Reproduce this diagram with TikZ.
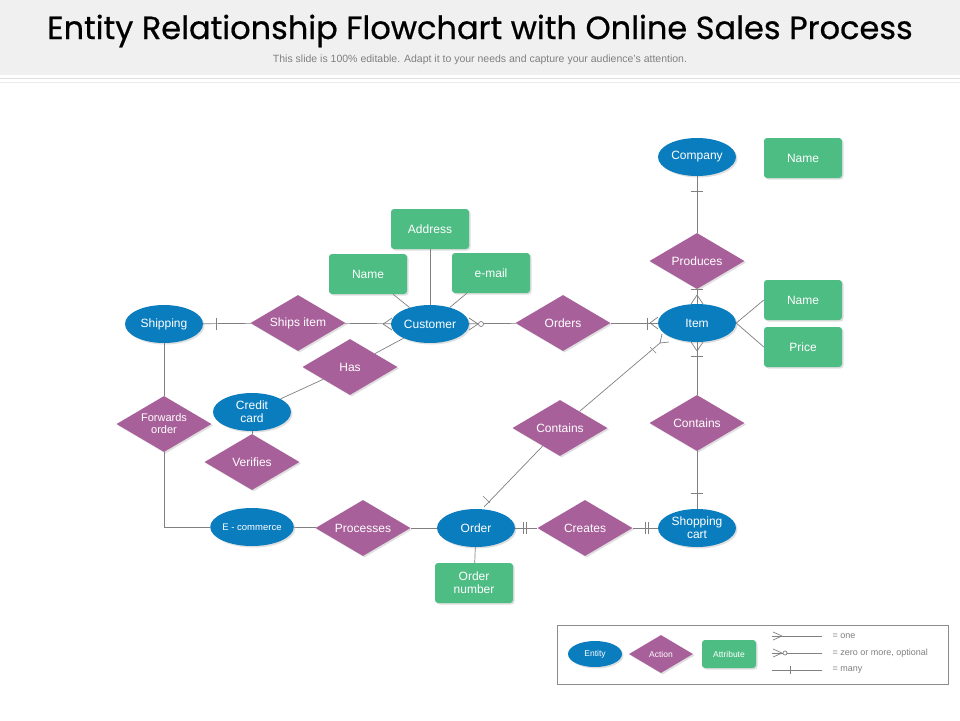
\documentclass[tikz,border=0pt]{standalone}
\usepackage{fontspec}
\setmainfont{Liberation Sans}
\newfontfamily\titlefont[FakeBold=0.6]{Poppins}
\usetikzlibrary{shapes.geometric,shadows}
\definecolor{ent}{HTML}{0A7DBF}
\definecolor{act}{HTML}{A8609A}
\definecolor{att}{HTML}{4DBD84}
\definecolor{ln}{HTML}{808080}
\tikzset{
 sh/.style={drop shadow={shadow xshift=1.5pt,shadow yshift=-1.5pt,opacity=0.25}},
 ent/.style={ellipse,fill=ent,text=white,minimum width=78pt,minimum height=38pt,inner sep=0pt,font=\fontsize{12}{13}\selectfont,align=center,sh},
 act/.style={diamond,fill=act,text=white,minimum width=95pt,minimum height=56pt,aspect=1.7,inner sep=0pt,font=\fontsize{12}{13}\selectfont,align=center,sh},
 att/.style={rectangle,rounded corners=3pt,fill=att,text=white,minimum width=78pt,minimum height=40pt,inner sep=0pt,font=\fontsize{12}{13}\selectfont,align=center,sh},
 con/.style={draw=ln,line width=0.7pt},
 mk/.style={draw=ln,line width=0.7pt},
 lt/.style={anchor=west,text=black!50,font=\fontsize{9}{10}\selectfont},
}
\begin{document}
\begin{tikzpicture}[x=1pt,y=-1pt]
\useasboundingbox (0,0) rectangle (960,720);
\fill[white] (0,0) rectangle (960,720);
\fill[black!6] (0,0) rectangle (960,75);
\draw[black!12,line width=1pt] (0,78) -- (960,78);
\draw[black!8,line width=1pt] (0,82) -- (960,82);
\node (title) at (480,31) {\titlefont\fontsize{32}{36}\selectfont Entity Relationship Flowchart with Online Sales Process};
\node[text=black!50] (sub) at (480,60) {\fontsize{10.5}{12}\selectfont This slide is 100\% editable. Adapt it to your needs and capture your audience's attention.};
% nodes
\node[ent] (company) at (697,157) {Company};
\node[att] (cname) at (803,158) {Name};
\node[att] (address) at (430,229) {Address};
\node[att] (name1) at (368,274) {Name};
\node[att] (email) at (491,273) {e-mail};
\node[ent] (customer) at (430,324) {Customer};
\node[ent] (shipping) at (164,324) {Shipping};
\node[act] (ships) at (298,323) {Ships item};
\node[act] (orders) at (563,323) {Orders};
\node[ent] (item) at (697,323) {Item};
\node[act] (produces) at (697,261) {Produces};
\node[att] (iname) at (803,300) {Name};
\node[att] (price) at (803,347) {Price};
\node[act] (has) at (350,367) {Has};
\node[ent] (credit) at (252,412) {Credit\\card};
\node[act,font=\fontsize{11}{12}\selectfont] (forwards) at (164,424) {Forwards\\order};
\node[act] (verifies) at (252,462) {Verifies};
\node[act] (contains1) at (560,428) {Contains};
\node[act] (contains2) at (697,423) {Contains};
\node[ent,font=\fontsize{9.5}{11}\selectfont] (ecom) at (252,527) {E - commerce};
\node[act] (processes) at (363,528) {Processes};
\node[ent] (order) at (476,528) {Order};
\node[act] (creates) at (585,528) {Creates};
\node[ent] (cart) at (697,528) {Shopping\\cart};
\node[att] (onum) at (474,583) {Order\\number};
% connectors
\draw[con] (shipping) -- (ships);
\draw[con] (ships) -- (customer);
\draw[con] (customer) -- (orders);
\draw[con] (orders) -- (item);
\draw[con] (company) -- (produces);
\draw[con] (produces) -- (item);
\draw[con] (item) -- (contains2);
\draw[con] (contains2) -- (cart);
\draw[con] (item.east) -- (iname.west);
\draw[con] (item.east) -- (price.west);
\draw[con] (customer) -- (address);
\draw[con] (customer) -- (name1);
\draw[con] (customer) -- (email);
\draw[con] (customer) -- (has);
\draw[con] (has) -- (credit);
\draw[con] (credit) -- (verifies);
\draw[con] (shipping) -- (forwards);
\draw[con] (forwards.south) |- (ecom.west);
\draw[con] (ecom) -- (processes);
\draw[con] (processes) -- (order);
\draw[con] (order) -- (creates);
\draw[con] (creates) -- (cart);
\draw[con] (order) -- (onum);
\coordinate (itemfoot) at (660,343);
\coordinate (orderend) at (484,507);
\draw[con] (orderend) -- (contains1);
\draw[con] (contains1) -- (itemfoot);
% markings
\draw[mk] (216,318) -- (216,330);
\draw[mk] (383,324) -- (392,318) (383,324) -- (392,330);
\draw[mk] (478,324) -- (469,318) (478,324) -- (469,330);
\draw[mk,fill=white] (481,324) circle (2.5pt);
\draw[mk] (647,318) -- (647,330);
\draw[mk] (650,323) -- (658,317) (650,323) -- (658,329);
\draw[mk] (697,295) -- (691,304) (697,295) -- (703,304);
\draw[mk] (691,289) -- (703,289);
\draw[mk] (697,351) -- (691,342) (697,351) -- (703,342);
\draw[mk] (691,356) -- (703,356);
\draw[mk] (691,493) -- (703,493);
\draw[mk] (691,191) -- (703,191);
\draw[mk] (660,343) -- (662,334) (660,343) -- (669,342);
\draw[mk] (650,347) -- (656,353);
\draw[mk] (483,496) -- (490,503);
\draw[mk] (523,522) -- (523,534) (526,522) -- (526,534);
\draw[mk] (645,522) -- (645,534) (648,522) -- (648,534);
% legend
\draw[black!45,line width=0.8pt] (557,625) rectangle (948,684);
\node[ent,minimum width=54pt,minimum height=26pt,font=\fontsize{8.5}{9}\selectfont] (lent) at (595,654) {Entity};
\node[act,minimum width=64pt,minimum height=38pt,font=\fontsize{8.5}{9}\selectfont] (lact) at (661,654) {Action};
\node[att,minimum width=54pt,minimum height=28pt,font=\fontsize{8.5}{9}\selectfont] (latt) at (729,654) {Attribute};
\coordinate (l1a) at (772,636); \coordinate (l1b) at (822,636);
\coordinate (l2a) at (772,653); \coordinate (l2b) at (822,653);
\coordinate (l3a) at (772,670); \coordinate (l3b) at (822,670);
\draw[con] (l1a) -- (l1b); \draw[con] (l2a) -- (l2b); \draw[con] (l3a) -- (l3b);
\draw[mk] (782,636) -- (773,632) (782,636) -- (773,640);
\draw[mk] (782,653) -- (773,649) (782,653) -- (773,657);
\draw[mk,fill=white] (785,653) circle (2pt);
\draw[mk] (790,666) -- (790,674);
\node[lt] (t1) at (829,636) {= one};
\node[lt] (t2) at (829,653) {= zero or more, optional};
\node[lt] (t3) at (829,670) {= many};
\end{tikzpicture}
\end{document}
